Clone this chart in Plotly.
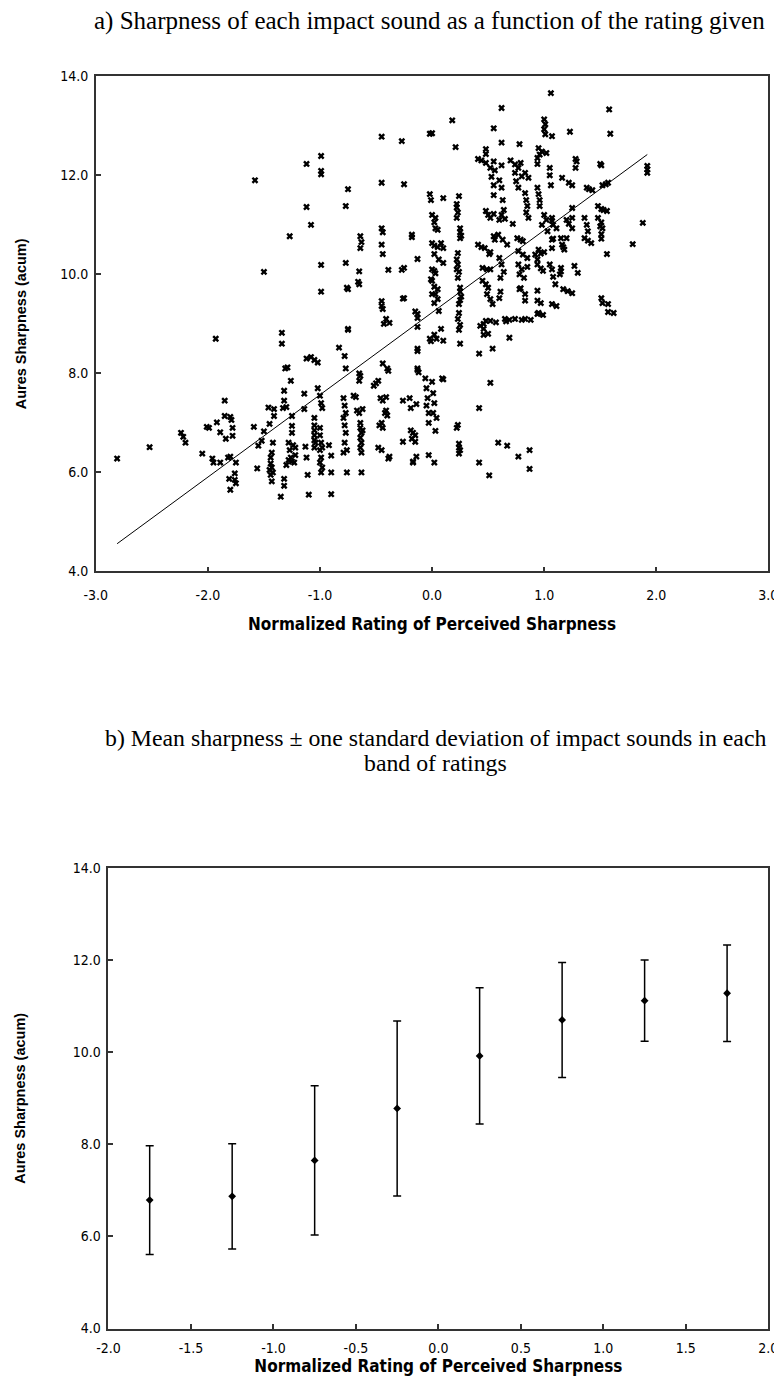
import plotly.graph_objects as go

# ---------------- data: panel a (rating, sharpness) grouped by rating band ----------------
pts_a = [(-2.81,6.28),(-2.52,6.51),(-2.24,6.80),(-2.22,6.72),(-2.20,6.60),(-2.05,6.38),(-2.01,6.92),(-1.99,6.90),
 (-1.96,6.28),(-1.95,6.20),(-1.93,8.70),(-1.92,7.01),(-1.89,6.81),(-1.89,6.20),(-1.85,7.45),(-1.85,7.14),(-1.84,6.68),
 (-1.82,6.30),(-1.80,6.32),(-1.80,7.12),(-1.79,7.06),(-1.78,6.90),(-1.78,6.74),(-1.81,5.87),(-1.80,5.65),(-1.76,5.98),
 (-1.75,5.78),(-1.75,6.20),(-1.76,5.85),(-1.58,11.90),(-1.50,10.05),(-1.59,6.92),(-1.56,6.08),(-1.55,6.54),(-1.52,6.64),
 (-1.50,6.83)]
pts_b = [(-1.46,7.31),(-1.45,6.98),(-1.42,6.60),(-1.43,6.40),(-1.44,6.30),(-1.44,6.18),(-1.43,6.10),(-1.45,6.05),
 (-1.42,6.00),(-1.44,5.95),(-1.43,5.82),(-1.41,7.28),(-1.41,7.14),(-1.35,5.51),(-1.34,8.82),(-1.34,8.60),(-1.32,7.65),
 (-1.32,7.45),(-1.33,7.30),(-1.30,7.32),(-1.31,8.10),(-1.29,8.12),(-1.26,7.85),(-1.25,7.14),(-1.25,6.94),(-1.25,6.80),
 (-1.28,6.60),(-1.27,6.45),(-1.26,6.30),(-1.25,6.22),(-1.23,6.20),(-1.22,6.35),(-1.24,6.55),(-1.22,6.50),(-1.28,6.25),
 (-1.30,6.15),(-1.32,5.87),(-1.32,5.73),(-1.27,10.77),(-1.14,7.59),(-1.14,7.28),(-1.12,8.30),(-1.08,8.33),(-1.05,8.27),
 (-1.02,8.22),(-1.13,6.52),(-1.12,6.30),(-1.11,5.95),(-1.10,5.55),(-1.05,7.10),(-1.05,6.95),(-1.05,6.85),(-1.05,6.75),
 (-1.05,6.65),(-1.05,6.50),(-1.04,6.60),(-1.02,7.70),(-1.00,7.55),(-0.99,7.40),(-0.98,7.30),(-1.00,6.90),(-1.00,6.75),
 (-0.99,6.60),(-1.00,6.45),(-0.99,6.30),(-1.00,6.20),(-0.98,6.10),(-0.99,6.00),(-0.98,6.50),(-1.12,12.23),(-0.99,12.39),
 (-0.99,12.09),(-0.99,12.02),(-1.12,11.36),(-1.08,11.00),(-0.99,10.19),(-0.99,9.65),(-0.90,6.34),(-0.90,6.00),
 (-0.90,5.56),(-0.92,6.55)]
pts_c = [(-0.83,8.52),(-0.78,8.35),(-0.77,8.10),(-0.75,8.88),(-0.75,11.72),(-0.77,11.38),(-0.77,10.23),(-0.76,9.73),
 (-0.75,9.70),(-0.79,7.50),(-0.78,7.35),(-0.77,7.20),(-0.79,7.10),(-0.78,6.95),(-0.77,6.80),(-0.78,6.60),(-0.76,6.45),
 (-0.79,6.40),(-0.76,6.00),(-0.63,6.00),(-0.70,7.55),(-0.68,7.52),(-0.65,8.00),(-0.64,7.95),(-0.65,7.85),(-0.67,7.25),
 (-0.65,7.20),(-0.62,7.28),(-0.64,7.00),(-0.64,6.90),(-0.63,6.80),(-0.64,6.70),(-0.63,6.60),(-0.64,6.50),(-0.63,6.40),
 (-0.62,6.85),(-0.64,10.77),(-0.63,10.65),(-0.64,10.53),(-0.65,10.06),(-0.65,9.80),(-0.66,9.85),(-0.50,7.80),
 (-0.48,7.85),(-0.52,7.75),(-0.46,7.50),(-0.44,7.45),(-0.41,7.52),(-0.41,7.25),(-0.40,7.15),(-0.42,7.20),(-0.47,6.95),
 (-0.45,7.00),(-0.44,6.90),(-0.48,6.50),(-0.45,6.45),(-0.38,6.32),(-0.39,6.28),(-0.44,8.20),(-0.40,8.10),(-0.39,8.05),
 (-0.43,9.00),(-0.41,9.10),(-0.44,9.30),(-0.45,12.78),(-0.45,11.85),(-0.45,10.93),(-0.44,10.85),(-0.45,10.60),
 (-0.44,10.41),(-0.45,9.46),(-0.45,9.36),(-0.38,9.02),(-0.39,10.09),(-0.75,8.90)]
pts_d = [(-0.27,12.69),(-0.25,11.82),(-0.27,10.09),(-0.26,9.51),(-0.25,10.13),(-0.25,9.52),(-0.20,7.50),(-0.19,6.85),
 (-0.17,6.80),(-0.14,6.32),(-0.17,6.20),(-0.14,7.38),(-0.15,6.75),(-0.18,6.68),(-0.15,6.62),(-0.26,6.62),(-0.19,7.30),
 (-0.26,7.45),(-0.13,8.10),(-0.13,8.50),(-0.15,9.25),(-0.13,9.20),(-0.18,10.75),(-0.18,10.80),(-0.13,10.31),
 (-0.13,9.12),(-0.13,8.94),(-0.13,8.45),(-0.13,8.07),(-0.12,8.02),(-0.06,7.90),(-0.05,7.70),(-0.04,7.50),(-0.05,7.35),
 (-0.03,7.20),(-0.03,7.00),(-0.02,8.70),(-0.01,8.65),(-0.03,6.35),(0.00,12.85),(-0.02,12.84),(-0.02,11.62),
 (-0.01,11.50),(0.00,11.20),(0.02,11.05),(0.03,11.14),(0.03,10.93),(0.05,10.90),(0.00,10.63),(0.02,10.58),(0.05,10.55),
 (0.08,10.63),(0.10,10.53),(0.02,10.41),(0.06,10.30),(0.10,10.23),(0.02,10.07),(0.03,10.02),(0.00,10.10),(0.00,9.87),
 (0.02,9.75),(0.05,9.70),(0.03,9.60),(0.05,9.50),(-0.01,9.90),(0.00,9.60),(0.02,9.42),(0.06,9.26),(0.02,8.78),
 (0.04,8.70),(0.10,8.66),(0.08,8.90),(0.00,7.83),(0.01,7.60),(0.02,7.40),(0.01,7.20),(0.04,7.10),(0.03,6.84),(0.09,7.90),
 (0.10,7.88),(0.02,6.20),(-0.17,6.22),(0.10,11.54)]
pts_e = [(0.18,13.11),(0.21,12.57),(0.24,11.58),(0.22,11.42),(0.22,11.35),(0.23,11.25),(0.22,11.14),(0.25,10.93),
 (0.25,10.85),(0.26,10.78),(0.25,10.73),(0.23,10.43),(0.22,10.30),(0.23,10.20),(0.22,10.10),(0.24,10.05),(0.23,9.93),
 (0.25,9.73),(0.25,9.65),(0.26,9.55),(0.25,9.48),(0.24,9.40),(0.24,9.22),(0.23,9.10),(0.25,8.98),(0.24,8.88),(0.25,8.60),
 (0.23,6.96),(0.22,6.90),(0.24,6.58),(0.24,6.50),(0.25,6.45),(0.24,6.38)]
pts_f = [(0.55,12.95),(0.62,13.36),(0.62,12.66),(0.48,12.53),(0.48,12.43),(0.41,12.33),(0.44,12.30),(0.48,12.25),
 (0.52,12.15),(0.55,12.28),(0.56,12.10),(0.62,12.20),(0.53,11.97),(0.55,11.80),(0.55,11.60),(0.60,11.90),(0.62,11.75),
 (0.63,11.50),(0.64,11.30),(0.62,11.20),(0.65,11.12),(0.60,11.10),(0.48,11.28),(0.50,11.20),(0.52,11.14),(0.55,11.22),
 (0.55,10.77),(0.56,10.70),(0.41,10.60),(0.44,10.55),(0.47,10.53),(0.51,10.41),(0.52,10.45),(0.45,10.13),(0.49,10.10),
 (0.52,10.10),(0.45,9.87),(0.48,9.80),(0.50,9.73),(0.49,9.60),(0.52,9.50),(0.54,9.40),(0.59,10.80),(0.63,10.70),
 (0.67,10.60),(0.60,10.33),(0.62,10.20),(0.64,10.05),(0.61,9.93),(0.61,9.65),(0.60,9.52),(0.65,9.10),(0.66,9.05),
 (0.43,8.96),(0.46,9.00),(0.46,8.90),(0.46,8.78),(0.48,9.06),(0.52,9.06),(0.57,9.03),(0.50,8.80),(0.54,8.50),(0.42,8.40),
 (0.52,7.81),(0.42,7.30),(0.42,6.20),(0.51,5.94),(0.69,9.08),(0.69,8.72),(0.67,6.54),(0.59,6.60)]
pts_g = [(0.78,12.63),(0.70,12.30),(0.74,12.22),(0.77,12.15),(0.79,12.25),(0.74,12.05),(0.80,11.98),(0.86,11.95),
 (0.83,12.05),(0.75,11.88),(0.77,11.75),(0.83,11.64),(0.84,11.50),(0.85,11.38),(0.84,11.25),(0.86,11.14),(0.72,11.02),
 (0.94,12.35),(0.94,12.23),(0.95,12.55),(0.98,12.48),(0.96,12.42),(0.94,11.75),(0.95,11.62),(0.96,11.50),(0.96,11.38),
 (0.76,10.73),(0.79,10.70),(0.81,10.67),(0.77,10.47),(0.81,10.40),(0.85,10.33),(0.77,10.20),(0.80,10.10),(0.78,10.00),
 (0.82,9.93),(0.85,10.15),(0.78,9.70),(0.79,9.72),(0.83,9.60),(0.83,9.47),(0.92,10.40),(0.94,10.30),(0.94,10.20),
 (0.97,10.12),(0.99,10.07),(0.94,9.67),(0.94,9.47),(0.95,10.50),(0.97,10.42),(0.98,11.00),(0.94,9.20),(0.95,9.22),
 (0.74,9.10),(0.80,9.08),(0.83,9.10),(0.88,9.08),(0.97,9.42),(0.77,6.32),(0.87,6.45),(0.87,6.07),(0.99,9.18)]
pts_h = [(1.06,13.66),(1.00,13.13),(1.01,13.03),(1.00,12.93),(1.01,12.83),(1.07,12.79),(1.23,12.88),(1.58,13.33),
 (1.59,12.84),(1.02,12.45),(1.05,12.15),(1.05,12.00),(1.06,11.80),(1.28,12.33),(1.29,12.28),(1.28,12.15),(1.50,12.23),
 (1.51,12.20),(1.16,11.95),(1.22,11.85),(1.25,11.80),(1.38,11.75),(1.43,11.70),(1.40,11.72),(1.52,11.80),(1.57,11.85),
 (1.55,11.82),(1.92,12.19),(1.92,12.12),(1.92,12.05),(1.00,11.20),(1.02,11.10),(1.07,11.14),(1.07,11.08),(1.08,11.00),
 (1.03,10.87),(1.07,10.70),(1.08,10.72),(1.07,10.53),(1.00,10.45),(1.05,10.20),(1.07,10.10),(1.08,9.95),(1.10,9.80),
 (1.11,10.93),(1.15,10.73),(1.20,10.73),(1.16,10.60),(1.17,10.55),(1.18,10.50),(1.20,11.10),(1.22,11.02),(1.25,10.93),
 (1.25,11.34),(1.25,11.14),(1.15,10.13),(1.15,10.06),(1.14,10.00),(1.27,10.17),(1.30,10.03),(1.17,9.70),(1.21,9.66),
 (1.25,9.62),(1.36,11.14),(1.38,11.00),(1.39,10.87),(1.36,10.73),(1.39,10.68),(1.42,10.63),(1.48,11.38),(1.51,11.32),
 (1.53,11.30),(1.56,11.28),(1.48,11.14),(1.51,11.05),(1.50,10.97),(1.52,10.93),(1.51,10.81),(1.51,10.72),(1.56,10.41),
 (1.51,9.52),(1.52,9.42),(1.57,9.24),(1.88,11.04),(1.79,10.61),(1.07,9.40),(1.11,9.36),(1.57,9.40),(1.62,9.22)]

# regression line of panel a (end points)
fit_x = [-2.81, 1.92]
fit_y = [4.56, 12.42]

# ---------------- data: panel b ----------------
band_centre = [-1.75, -1.25, -0.75, -0.25, 0.25, 0.75, 1.25, 1.75]
band_mean = [6.79, 6.87, 7.65, 8.78, 9.92, 10.70, 11.12, 11.28]
band_sd = [1.18, 1.14, 1.62, 1.90, 1.48, 1.25, 0.88, 1.05]

ticks_a_x = [-3, -2, -1, 0, 1, 2, 3]
ticks_b_x = [-2, -1.5, -1, -0.5, 0, 0.5, 1, 1.5, 2]
ticks_y = [4, 6, 8, 10, 12, 14]

all_pts = pts_a + pts_b + pts_c + pts_d + pts_e + pts_f + pts_g + pts_h
rating = [p[0] for p in all_pts]
sharp = [p[1] for p in all_pts]

W, H = 782, 1376
def px(v): return v / W
def py(v): return 1 - v / H

NARROW = "Liberation Sans Narrow, Arial Narrow, DejaVu Sans Condensed, Liberation Sans, Arial, sans-serif"
SANS = "Liberation Sans, Arial, sans-serif"
SERIF = "Liberation Serif, Times New Roman, serif"

fig = go.Figure()
fig.add_trace(go.Scatter(x=rating, y=sharp, mode="markers", xaxis="x", yaxis="y",
                         marker=dict(symbol="x", size=6, color="black"), showlegend=False))
fig.add_trace(go.Scatter(x=fit_x, y=fit_y, mode="lines", xaxis="x", yaxis="y",
                         line=dict(color="black", width=1), showlegend=False))
fig.add_trace(go.Scatter(x=band_centre, y=band_mean, mode="markers", xaxis="x2", yaxis="y2",
                         marker=dict(symbol="diamond", size=6, color="black"),
                         error_y=dict(type="data", array=band_sd, visible=True, color="black",
                                      thickness=1.5, width=4),
                         showlegend=False))

axis_common = dict(showgrid=False, zeroline=False, showline=True, mirror=True,
                   linecolor="#333", linewidth=1.5, ticks="inside", ticklen=5,
                   tickcolor="#333", tickwidth=1.5,
                   tickfont=dict(family=NARROW, size=14, color="black"))

xtitle_font = dict(family=NARROW, size=17, color="black", weight="bold")
ytitle_font = dict(family=SANS, size=14.5, color="black", weight="bold")

fig.update_layout(
    width=W, height=H, margin=dict(l=0, r=0, t=0, b=0),
    paper_bgcolor="white", plot_bgcolor="white",
    xaxis=dict(axis_common, domain=[px(78), px(770)], range=[-3, 3], anchor="y",
               tickvals=ticks_a_x, ticktext=[f"{v:.1f}" for v in ticks_a_x], ticklabelstandoff=10,
               title=dict(text="Normalized Rating of Perceived Sharpness", standoff=16, font=xtitle_font)),
    yaxis=dict(axis_common, domain=[py(562), py(61)], range=[4, 14], anchor="x",
               tickvals=ticks_y, ticktext=[f"{v:.1f}" for v in ticks_y], ticklabelstandoff=3,
               title=dict(text="Aures Sharpness (acum)", standoff=30, font=ytitle_font)),
    xaxis2=dict(axis_common, domain=[px(91), px(770)], range=[-2, 2], anchor="y2",
                tickvals=ticks_b_x, ticktext=[f"{v:.1f}" for v in ticks_b_x], ticklabelstandoff=6,
                title=dict(text="Normalized Rating of Perceived Sharpness", standoff=0, font=xtitle_font)),
    yaxis2=dict(axis_common, domain=[py(1328), py(862)], range=[4, 14], anchor="x2",
                tickvals=ticks_y, ticktext=[f"{v:.1f}" for v in ticks_y], ticklabelstandoff=3,
                title=dict(text="Aures Sharpness (acum)", standoff=44, font=ytitle_font)),
    annotations=[
        dict(text="a) Sharpness of each impact sound as a function of the rating given",
             xref="paper", yref="paper", x=px(421), y=py(5), xanchor="center", yanchor="middle",
             showarrow=False, font=dict(family=SERIF, size=25, color="black")),
        dict(text="b) Mean sharpness ± one standard deviation of impact sounds in each",
             xref="paper", yref="paper", x=px(428), y=py(730), xanchor="center", yanchor="middle",
             showarrow=False, font=dict(family=SERIF, size=23.8, color="black")),
        dict(text="band of ratings",
             xref="paper", yref="paper", x=px(428), y=py(756), xanchor="center", yanchor="middle",
             showarrow=False, font=dict(family=SERIF, size=23.8, color="black")),
    ],
)

fig.write_html("out.html")
